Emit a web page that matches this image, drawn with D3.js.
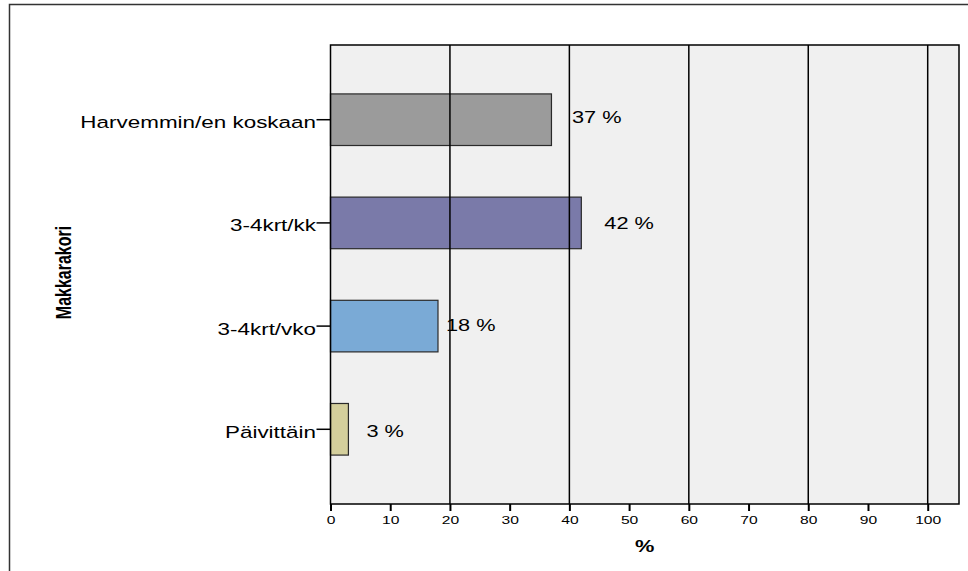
<!DOCTYPE html>
<html>
<head>
<meta charset="utf-8">
<script src="https://cdn.jsdelivr.net/npm/d3@7"></script>
<style>
  html, body { margin: 0; padding: 0; background: #ffffff; }
  svg { display: block; }
  text { font-family: Arial, "Liberation Sans", Helvetica, sans-serif; fill: #000; }
</style>
</head>
<body>
<svg id="chart" width="968" height="571"></svg>
<script>
// Response categories (top to bottom) and their shares in percent
const categories = ["Harvemmin/en koskaan", "3-4krt/kk", "3-4krt/vko", "Päivittäin"];
const values = [37, 42, 18, 3];
const valueLabels = ["37 %", "42 %", "18 %", "3 %"];
const xTickValues = [0, 10, 20, 30, 40, 50, 60, 70, 80, 90, 100];
const gridValues = [20, 40, 60, 80, 100];
const yTitle = "Makkarakori";
const xTitle = "%";

// Styling
const barColors = ["#9b9b9b", "#7a7aa9", "#7aaad6", "#d4cf9c"];
const labelShift = [[20.5, 3.5], [23, 6], [8, 4.8], [18, 7.7]]; // [dx, dy] per value label
const SX = 1.36; // horizontal widening of all lettering

const svg = d3.select("#chart");
const plot = { left: 330.5, right: 959, top: 45, bottom: 504 };

const x = d3.scaleLinear().domain([0, 105.24]).range([plot.left, plot.right]);
const y = d3.scaleBand().domain(categories).range([plot.top, plot.bottom])
  .paddingInner(0.5).paddingOuter(0.474);

// Outer frame
svg.append("rect")
  .attr("x", 9.5).attr("y", 4.5).attr("width", 1000).attr("height", 600)
  .attr("fill", "none").attr("stroke", "#333").attr("stroke-width", 1.5);

// Plot background
svg.append("rect")
  .attr("x", plot.left).attr("y", plot.top)
  .attr("width", plot.right - plot.left).attr("height", plot.bottom - plot.top)
  .attr("fill", "#f0f0f0");

// Bars
svg.append("g").selectAll("rect")
  .data(values)
  .join("rect")
  .attr("x", x(0))
  .attr("y", (d, i) => y(categories[i]))
  .attr("width", d => x(d) - x(0))
  .attr("height", y.bandwidth())
  .attr("fill", (d, i) => barColors[i])
  .attr("stroke", "#2a2a2a")
  .attr("stroke-width", 1.2);

// Vertical grid lines drawn over the bars
svg.append("g").selectAll("line")
  .data(gridValues)
  .join("line")
  .attr("x1", d => x(d)).attr("x2", d => x(d))
  .attr("y1", plot.top).attr("y2", plot.bottom)
  .attr("stroke", "#000").attr("stroke-width", 1.5);

// Plot border
svg.append("rect")
  .attr("x", plot.left).attr("y", plot.top)
  .attr("width", plot.right - plot.left).attr("height", plot.bottom - plot.top)
  .attr("fill", "none").attr("stroke", "#000").attr("stroke-width", 1.5);

// Value labels
svg.append("g").selectAll("text")
  .data(values)
  .join("text")
  .attr("transform", (d, i) => {
    const cx = x(d) + labelShift[i][0];
    const cy = y(categories[i]) + y.bandwidth() / 2 + labelShift[i][1];
    return `translate(${cx},${cy}) scale(${SX},1)`;
  })
  .style("font-size", "16px")
  .text((d, i) => valueLabels[i]);

// Bottom axis
const xAxis = svg.append("g")
  .attr("transform", `translate(0,${plot.bottom})`)
  .call(d3.axisBottom(x).tickValues(xTickValues).tickSize(7).tickSizeOuter(0));
xAxis.select(".domain").remove();
xAxis.selectAll(".tick line").attr("stroke", "#000").attr("stroke-width", 2);
xAxis.selectAll(".tick text")
  .attr("y", 20.5).attr("dy", 0)
  .attr("transform", `scale(${SX},1)`)
  .style("font-size", "11.5px").style("font-family", "Arial, 'Liberation Sans', sans-serif")
  .attr("fill", "#000");

// Left axis with category labels
const yAxis = svg.append("g")
  .attr("transform", `translate(${plot.left},0)`)
  .call(d3.axisLeft(y).tickSize(14).tickSizeOuter(0));
yAxis.select(".domain").remove();
yAxis.selectAll(".tick line").attr("stroke", "#000").attr("stroke-width", 1.5);
yAxis.selectAll(".tick text")
  .attr("x", -14.5 / SX).attr("dy", 0).attr("y", 8.5)
  .attr("transform", `scale(${SX},1)`)
  .style("font-size", "16.5px").style("font-family", "Arial, 'Liberation Sans', sans-serif")
  .attr("fill", "#000");

// Axis titles
svg.append("text")
  .attr("transform", `translate(${(plot.left + plot.right) / 2},551.7) scale(${SX},1)`)
  .attr("text-anchor", "middle")
  .style("font-size", "16px").style("font-weight", "bold")
  .text(xTitle);

svg.append("text")
  .attr("transform", `translate(71,${(plot.top + plot.bottom) / 2 - 2}) scale(${SX},1) rotate(-90)`)
  .attr("text-anchor", "middle")
  .style("font-size", "16px").style("font-weight", "bold")
  .text(yTitle);
</script>
</body>
</html>
